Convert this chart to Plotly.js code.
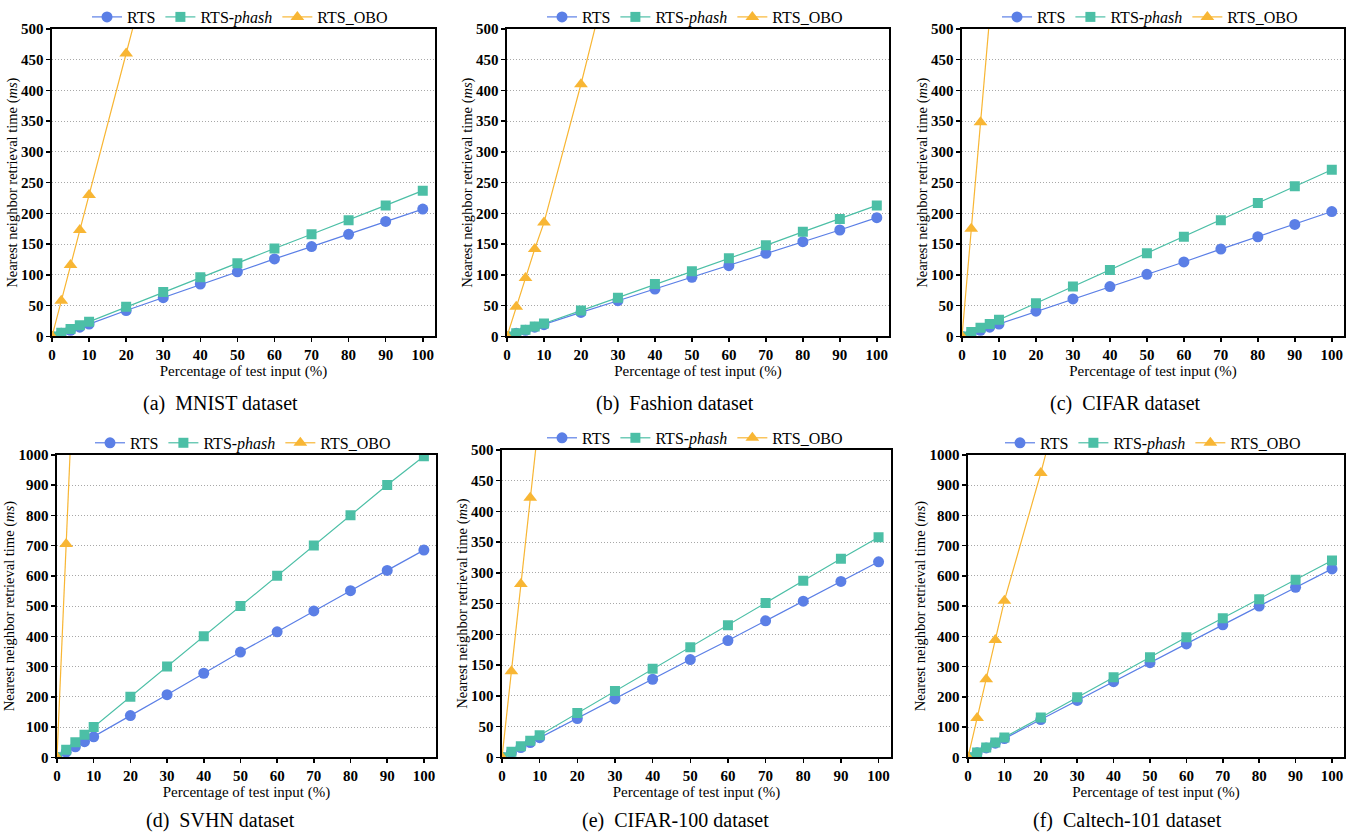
<!DOCTYPE html>
<html>
<head>
<meta charset="utf-8">
<script src="https://cdn.plot.ly/plotly-3.0.1.min.js"></script>
<style>html,body{margin:0;padding:0;background:#fff;}#chart{width:1348px;height:833px;}</style>
</head>
<body>
<div id="chart"></div>
<script>
// ---- data ----
const xPct = [0, 2.5, 5, 7.5, 10, 20, 30, 40, 50, 60, 70, 80, 90, 100];

const mnistRTS   = [0, 5, 10, 15, 20, 42, 63, 85, 105, 126, 146, 166, 187, 207];
const mnistPhash = [0, 6, 12, 18, 24, 48, 72, 96, 119, 143, 166, 189, 213, 237];
const mnistOBO   = [0, 58, 116, 173, 230, 460, 690];

const fashionRTS   = [0, 5, 10, 15, 19, 39, 58, 77, 96, 115, 135, 154, 173, 193];
const fashionPhash = [0, 5, 11, 16, 21, 42, 63, 85, 106, 127, 148, 170, 191, 213];
const fashionOBO   = [0, 48, 95, 142, 185, 410, 650];

const cifarRTS   = [0, 5, 10, 15, 20, 41, 61, 81, 101, 121, 142, 162, 182, 203];
const cifarPhash = [0, 7, 14, 20, 27, 54, 81, 108, 135, 162, 189, 217, 244, 271];
const cifarOBO   = [0, 175, 348, 520];

const svhnRTS   = [0, 17, 35, 52, 68, 138, 207, 278, 348, 415, 484, 551, 618, 685];
const svhnPhash = [0, 25, 50, 75, 100, 200, 300, 400, 500, 600, 700, 800, 900, 995];
const svhnOBO   = [0, 705, 1410];

const cifar100RTS   = [0, 8, 16, 24, 32, 63, 95, 127, 159, 190, 222, 254, 286, 318];
const cifar100Phash = [0, 9, 18, 27, 36, 72, 108, 144, 179, 215, 251, 287, 323, 358];
const cifar100OBO   = [0, 140, 282, 422, 560];

const caltechRTS   = [0, 15, 31, 47, 62, 125, 188, 250, 313, 375, 438, 500, 562, 623];
const caltechPhash = [0, 16, 33, 49, 66, 132, 199, 265, 331, 397, 460, 523, 587, 651];
const caltechOBO   = [0, 130, 258, 388, 518, 940, 1400];

const seriesNames = ['RTS', 'RTS-<i>phash</i>', 'RTS_OBO'];
const captions = ['(a)  MNIST dataset', '(b)  Fashion dataset', '(c)  CIFAR dataset',
                  '(d)  SVHN dataset', '(e)  CIFAR-100 dataset', '(f)  Caltech-101 dataset'];
const yTicksSmall = [0, 50, 100, 150, 200, 250, 300, 350, 400, 450, 500];
const yTicksLarge = [0, 100, 200, 300, 400, 500, 600, 700, 800, 900, 1000];
const xTicks = [0, 10, 20, 30, 40, 50, 60, 70, 80, 90, 100];

const panels = [
  [mnistRTS, mnistPhash, mnistOBO],
  [fashionRTS, fashionPhash, fashionOBO],
  [cifarRTS, cifarPhash, cifarOBO],
  [svhnRTS, svhnPhash, svhnOBO],
  [cifar100RTS, cifar100Phash, cifar100OBO],
  [caltechRTS, caltechPhash, caltechOBO]
];
const panelYTicks = [yTicksSmall, yTicksSmall, yTicksSmall, yTicksLarge, yTicksSmall, yTicksLarge];

// ---- layout geometry (pixels) ----
const W = 1348, H = 833;
const boxes = [
  {l: 52,  r: 435,  t: 25,  b: 334, leg: [240, 13],  cap: [220, 401]},
  {l: 507, r: 889,  t: 25,  b: 334, leg: [695, 13],  cap: [675, 401]},
  {l: 962, r: 1344, t: 25,  b: 334, leg: [1150, 13], cap: [1125, 401]},
  {l: 57,  r: 436,  t: 453, b: 757, leg: [243, 441], cap: [220, 820]},
  {l: 502, r: 891,  t: 448, b: 757, leg: [695, 436], cap: [675, 820]},
  {l: 968, r: 1344, t: 453, b: 757, leg: [1153, 441], cap: [1127, 820]}
];
const colors = ['#5b7fe6', '#4cbfa6', '#f8b634'];
const symbols = ['circle', 'square', 'triangle-up'];
const msizes = [11, 10, 12];
const serif = '"Liberation Serif", "Times New Roman", serif';
const bold = v => '<b>' + v + '</b>';

const traces = [];
const layout = {
  width: W, height: H,
  margin: {l: 0, r: 0, t: 0, b: 0},
  paper_bgcolor: '#fff', plot_bgcolor: '#fff',
  font: {family: serif, color: '#000'},
  annotations: []
};

const tickFont = {family: serif, size: 15, color: '#000'};

panels.forEach((p, i) => {
  const n = i + 1;
  const xa = 'xaxis' + (n === 1 ? '' : n), ya = 'yaxis' + (n === 1 ? '' : n);
  const xr = 'x' + (n === 1 ? '' : n), yr = 'y' + (n === 1 ? '' : n);
  const lg = 'legend' + (n === 1 ? '' : n);
  const bx = boxes[i];
  const yt = panelYTicks[i];
  p.forEach((ys, k) => {
    traces.push({
      x: xPct.slice(0, ys.length), y: ys,
      xaxis: xr, yaxis: yr, legend: lg,
      name: seriesNames[k], type: 'scatter', mode: 'lines+markers',
      line: {color: colors[k], width: 1.2},
      marker: {color: colors[k], symbol: symbols[k], size: msizes[k]},
      showlegend: true
    });
  });
  layout[xa] = {
    domain: [bx.l / W, bx.r / W], anchor: yr,
    range: [0, 103.3], tickvals: xTicks, ticktext: xTicks.map(bold),
    ticks: 'outside', ticklen: 4, tickwidth: 1.5, tickcolor: '#000',
    showline: true, linecolor: '#000', linewidth: 1.6, mirror: true,
    showgrid: false, zeroline: false,
    tickfont: tickFont,
    title: {text: 'Percentage of test input (%)', font: {family: serif, size: 15, color: '#000'}, standoff: 2}
  };
  layout[ya] = {
    domain: [1 - bx.b / H, 1 - bx.t / H], anchor: xr,
    range: [0, yt[yt.length - 1]], tickvals: yt, ticktext: yt.map(bold),
    ticks: 'outside', ticklen: 4, tickwidth: 1.5, tickcolor: '#000',
    showline: true, linecolor: '#000', linewidth: 1.6, mirror: true,
    showgrid: true, gridcolor: '#a8a8a8', griddash: '1px,2px', gridwidth: 1, zeroline: false,
    tickfont: tickFont,
    title: {text: 'Nearest neighbor retrieval time (<i>ms</i>)', font: {family: serif, size: 14.5, color: '#000'}, standoff: 0}
  };
  layout[lg] = {
    orientation: 'h', x: bx.leg[0] / W, y: 1 - bx.leg[1] / H,
    xanchor: 'center', yanchor: 'middle', bgcolor: 'rgba(0,0,0,0)',
    font: {family: serif, size: 16, color: '#000'}, itemwidth: 30, tracegroupgap: 0
  };
  layout.annotations.push({
    text: captions[i], xref: 'paper', yref: 'paper',
    x: bx.cap[0] / W, y: 1 - bx.cap[1] / H, xanchor: 'center', yanchor: 'middle',
    showarrow: false, font: {family: serif, size: 20, color: '#000'}
  });
});

Plotly.newPlot('chart', traces, layout, {displayModeBar: false, staticPlot: true});
</script>
</body>
</html>
